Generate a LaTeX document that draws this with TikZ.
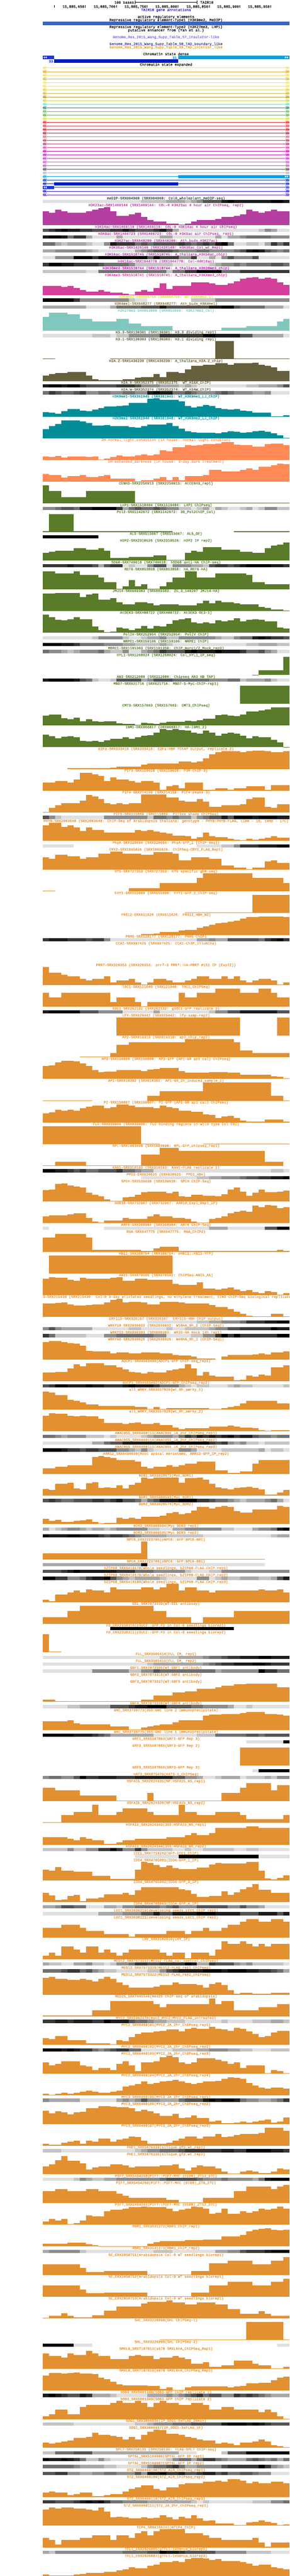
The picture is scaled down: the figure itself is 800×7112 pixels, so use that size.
\documentclass[tikz,border=0pt]{standalone}
\usepackage{fontspec}
\setmainfont{Liberation Mono}[FakeBold=0.2]
\definecolor{g1}{HTML}{E0E0E0}\definecolor{g2}{HTML}{C4C4C4}\definecolor{g3}{HTML}{A8A8A8}
\definecolor{g4}{HTML}{8C8C8C}\definecolor{g5}{HTML}{707070}\definecolor{g6}{HTML}{545454}
\definecolor{g7}{HTML}{383838}\definecolor{g8}{HTML}{1C1C1C}\definecolor{g9}{HTML}{000000}
\definecolor{cMe}{HTML}{2F4F38}\definecolor{cAc}{HTML}{B43FA0}\definecolor{cMth}{HTML}{D800C0}
\definecolor{cMf}{HTML}{D33F9B}\definecolor{cMtw}{HTML}{DDE020}\definecolor{cMon}{HTML}{8A7A30}
\definecolor{cKt}{HTML}{80C8BE}\definecolor{cHv}{HTML}{67603C}\definecolor{cNi}{HTML}{028D99}
\definecolor{cDh}{HTML}{FF8A55}\definecolor{cGr}{HTML}{5A7B2A}\definecolor{cOr}{HTML}{E39030}
\definecolor{cGene}{HTML}{3300CC}\definecolor{cRep}{HTML}{3366CC}\definecolor{cIns}{HTML}{7766EE}
\definecolor{cBnd}{HTML}{443399}\definecolor{cInt}{HTML}{DD9922}
\definecolor{cSa}{HTML}{00A0E9}\definecolor{cSb}{HTML}{001EC3}\definecolor{cSc}{HTML}{1A35EE}
\tikzset{lbl/.style={anchor=base,inner sep=0pt,font=\fontsize{10bp}{10bp}\selectfont},
  rowline/.style={line width=1bp}}
\newcount\cy \cy=547
\newcount\binc
\newcommand\wigT[3]{%
  \edef\ty{\the\numexpr\cy+3\relax.5}%
  \node[lbl,text=#1] (t\the\cy) at (458.5,\ty) {#2};%
  \global\binc=0
  \foreach \h/\n in {#3}{%
    \ifnum\h=\n \def\nn{1}\else \edef\nn{\n}\fi
    \edef\xa{\the\numexpr118+\binc*681/40\relax}%
    \global\advance\binc by \nn\relax
    \edef\xb{\the\numexpr118+\binc*681/40\relax}%
    \ifnum\h>0 \fill[#1] (\xa,\the\numexpr\cy+56\relax) rectangle (\xb,\the\numexpr\cy+56-\h\relax);\fi
  }%
  \global\advance\cy by 60\relax}
\newcommand\denT[3]{%
  \edef\ty{\the\numexpr\cy+3\relax.5}%
  \node[lbl,text=#1] (t\the\cy) at (458.5,\ty) {#2};%
  \global\binc=0
  \foreach \g/\n in {#3}{%
    \edef\xa{\the\numexpr118+\binc*681/40\relax}%
    \global\advance\binc by \n\relax
    \edef\xb{\the\numexpr118+\binc*681/40\relax}%
    \ifnum\g>0 \fill[g\g] (\xa,\the\numexpr\cy+5\relax) rectangle (\xb,\the\numexpr\cy+14\relax);\fi
  }%
  \global\advance\cy by 19\relax}
\catcode`\_=12
\begin{document}
\begin{tikzpicture}[x=1bp,y=-1bp]
\useasboundingbox (0,0) rectangle (800,7112);
\fill[white] (0,0) rectangle (800,7112);
% scale bar
\coordinate (sbl) at (373.5,6.5); \coordinate (sbr) at (543.5,6.5);
\node[lbl,anchor=base east] (sbtxt) at (370,10) {100 bases};
\node[lbl,anchor=base west] (sbasm) at (553,10) {TAIR10};
\draw[line width=1bp] (sbl) -- (sbr);
\draw[line width=1bp] (373.5,2) -- (373.5,11);
\draw[line width=1bp] (543.5,2) -- (543.5,11);
% ruler
\draw[line width=1bp] (150.5,14) -- (150.5,22);
\foreach \tx/\tl in {235.5/650,321.5/700,406.5/750,491.5/800,577.5/850,662.5/900,747.5/950}{
  \draw[line width=1bp] (\tx,14) -- (\tx,22);
  \node[lbl,anchor=base east] (r\tl) at (\tx-2.5,21.5) {15,885,\tl};
}
\node[lbl,text=cGene] (tg) at (458.5,30.5) {TAIR10 gene annotations};
\node[lbl] (ta) at (458.5,49.5) {active regulatory elements};
\node[lbl] (tb) at (458.5,58.5) {Repressive regulatory element-Type1 (H3K9me2, MeDIP)};
\fill[cRep] (118,60) rectangle (799,69);
\node[lbl] (tc) at (458.5,77.5) {Repressive regulatory element-Type2 (H3K27me3, LHP1)};
\node[lbl] (td) at (458.5,86.5) {putative enhancer from (Yan et al.)};
\node[lbl,text=cIns] (te) at (458.5,105.5) {Genome_Res_2015_Wang_Supp_Table_S7_insulator-like};
\node[lbl,text=cBnd] (tf) at (458.5,124.5) {Genome_Res_2015_Wang_Supp_Table_S8_TAD_boundary_like};
\node[lbl,text=cInt] (th) at (458.5,133.5) {Genome_Res_2015_Wang_Supp_Table_S9_TAD_interior_like};
\node[lbl] (ti) at (458.5,152.5) {Chromatin state dense};
\fill[cSc] (118,154) rectangle (150,163);
\fill[cSa] (492,154) rectangle (799,163);
\fill[cSb] (150,164) rectangle (492,173);
\node[lbl,anchor=base east,text=cSa!80!black] (t31) at (488.5,162.5) {31};
\node[lbl,anchor=base east,text=cSb] (t33) at (147,172.5) {33};
\foreach \dx in {0,5}{
  \fill[white] (124+\dx,155.5) -- (120+\dx,158.5) -- (124+\dx,161.5) -- cycle;
  \fill[white] (790+\dx-3,155.5) -- (794+\dx-3,158.5) -- (790+\dx-3,161.5) -- cycle;
}
\node[lbl] (tj) at (458.5,181.5) {Chromatin state expanded};
% chromatin rows
\foreach \c [count=\k from 0] in {F0E840,E8A020,EFE53A,D0B830,F2EC44,F0E840,E0D030,D4AE35,A89020,C8D838,50E8C8,108870,70B848,50B058,D8E020,E82020,E03848,D81020,C81030,E85878,B83850,A83878,D840A8,C808A0,C808C8,E020E0,E040E8,B850C8,484848,B0B0B0,00A0E0,0030A0,0018C0,1830F0,2010E0,6020E0}{
  \edef\dodef{\noexpand\definecolor{rowc}{HTML}{\c}}\dodef
  \pgfmathsetmacro\ry{187.5+10*\k}
  \draw[rowline,rowc] (118,\ry) -- (799,\ry);
  \foreach \off in {0,3,6}{
    \draw[rowline,rowc] (122+\off,\ry-4) -- (118.5+\off,\ry) -- (122+\off,\ry+4);
    \draw[rowline,rowc] (789+\off,\ry-4) -- (792.5+\off,\ry) -- (789+\off,\ry+4);
  }
}
\fill[cSa] (492,483) rectangle (799,492);
\fill[cSb] (150,503) rectangle (492,512);
\fill[cSc] (118,513) rectangle (150,522);
\foreach \dx in {0,5}{
  \fill[white] (790+\dx-3,484.5) -- (794+\dx-3,487.5) -- (790+\dx-3,490.5) -- cycle;
  \fill[white] (124+\dx,514.5) -- (120+\dx,517.5) -- (124+\dx,520.5) -- cycle;
}
% tracks
\denT{cMe}{meDIP-SRX004968 (SRX004968: Col0_wholeplant_meDIP-seq)}{1/16,2/4,3/3,2/1,3/1,4/1,6/3,8/1,9/1,8/6,9/2,8/1}
\wigT{cAc}{H3K23ac-SRX1469144 (SRX1469144: COL-0 H3K23ac 4 hour air ChIPseq, rep2)}{39,34,43,39,34,34,34,39,43,47,50,39,26,26,30,34,23,14,10,10,5,5,2,5,10,14,14,14,18,23,23,26,30,43,39,34,39,43,39,39}
\denT{cAc}{H3K14ac-SRX1469119 (SRX1469119: COL-0 H3K14ac 4 hour air ChIPseq)}{6/1,7/1,8/1,9/1,8/2,7/2,6/3,7/2,8/1,7/1,6/3,7/1,8/1,6/1,3/1,1/13,2/1,4/1,3/1,1/2}
\denT{cAc}{H3K9ac-SRX1466723 (SRX1466723: COL-0 H3K9ac air ChIPseq, rep1)}{8/1,9/2,8/1,5/1,7/2,3/1,1/4,3/1,1/6,3/2,1/7,3/1,1/1,3/2,4/1,5/4,4/3}
\denT{cAc}{H3K27ac-SRX648280 (SRX648280: Ath_buds_H3K27ac)}{5/2,3/1,2/1,3/3,2/1,1/2,4/1,8/1,7/3,5/1,6/1,5/1,6/4,7/1,6/1,5/1,6/1,7/1,6/1,8/1,9/1,5/1,1/2,2/2,1/1,3/1,7/1,5/1,7/1}
\denT{cAc}{H3K36ac-SRX1426149 (SRX1426149: H3K36ac_Col_wt_Rep1)}{3/2,4/5,3/1,2/1,1/6,3/1,4/1,5/1,6/3,5/1,4/3,5/2,4/4,5/1,6/1,8/1,9/1,8/1,6/1,5/1,4/1,5/1}
\denT{cAc}{H3K56ac-SRX1518745 (SRX1518745: A_thaliana_H3K56ac_chip)}{1/2,4/3,9/3,7/1,9/8,6/1,9/1,7/3,4/2,7/1,1/2,3/1,1/1,4/1,6/1,4/3,6/1,1/5}
\denT{cAc}{H4K16ac-SRX1044778 (SRX1044778: Col-H4K16ac)}{7/1,9/2,8/2,7/4,6/1,5/4,4/1,2/6,1/6,2/1,3/1,4/2,5/1,4/1,5/4,6/2,5/1}
\denT{cMth}{H3K36me3-SRX1518744 (SRX1518744: A_thaliana_H3K36me3_chip)}{2/7,1/2,5/11,2/1,5/2,7/2,9/4,5/3,7/8}
\wigT{cMf}{H3K4me3-SRX1518741 (SRX1518741: A_thaliana_H3K4me3_chip)}{26,26,26,23,26,20,14,10,10,14,10,7,7,4,2,10,14,10,20,32,17,26,26,26,35,35,35,32,29,29,32,39,45,48,50,45,48,45,35,29}
\denT{cMtw}{H3K4me2-DRX066756 (DRX066756: WT_H3K4me2_1)}{9/5,7/1,4/8,2/1,1/2,0/7,2/4,4/12}
\denT{cMon}{H3K4me1-SRX648277 (SRX648277: Ath_buds_H3K4me1)}{3/7,1/4,3/1,5/4,6/3,8/1,6/7,8/2,9/2,6/1,5/4,3/3,1/1}
\wigT{cKt}{H3K27me3-SRX853860 (SRX853860: H3K27me3_Col)}{38,50/3,45/2,33/2,26/4,33/2,20/2,13/5,1/8,8/4,13/5,26,33}
\denT{cHv}{H3.3-SRX130301 (SRX130301: H3.3 dividing rep1)}{1/8,2/3,1/1,2/2,4/5,7/7,9/2,8/4,6/2,3/5,1/1}
\wigT{cHv}{H3.1-SRX130303 (SRX130303: H3.1 dividing rep1)}{2,2,0/9,2/17,50/3,2/9}
\wigT{cHv}{H2A.Z-SRX1436239 (SRX1436239: A_thaliana_H2A.Z_chip)}{15,19,22,22,25,25,25,15,5,2,2,2,2,5,5,9,11,11,19,11,25,25,22,32,42,42,45,45,49,49,45,49,49,49,50,45,42,38,28,28}
\denT{cHv}{H2A.X-SRX352375 (SRX352375: WT_H2AX_ChIP)}{8/1,9/2,8/1,9/2,7/1,6/5,7/3,6/1,4/3,3/3,2/1,3/1,2/1,1/8,2/2,3/3,4/1,6/1}
\denT{cHv}{H2A.W-SRX352374 (SRX352374: WT_H2AW_ChIP)}{5/1,7/1,6/1,5/2,6/1,7/1,4/2,5/2,4/2,5/2,4/2,8/1,9/1,8/2,5/2,6/1,5/1,4/3,5/1,6/1,5/1,4/3,3/2,4/1,1/3}
\wigT{cNi}{H3K9me1-SRX361945 (SRX361945: WT_H3K9me1_LJ_ChIP)}{12,11,8,15,21,20,16,15,19,23,28,28,29,30,37,37,37,49,50,46,46,46,42,29,25,28,32,29,23,20,19,21,17,15,11,11,11,1,1,3}
\wigT{cNi}{H3K9me2-SRX361946 (SRX361946: WT_H3K9me2_LJ_ChIP)}{25,33,40,50,50,50,46,42,35,35,36,34,33,33,31,30,33,38,38,38,42,34,26,19,16,15,15,15,14,16,20,18,15,16,19,21,18,14,8,1}
\wigT{cDh}{DH-normal_light_condition (in house: normal light conditon)}{10,8,11,7,10,10,10,8,10,1,4,8,12,10,10,12,15,12,16,27,24,35,35,41,39,41,44,44,46,50,50,43,41,41,37,37,44,46,46,41}
\wigT{cDh}{DH-extended_darkness (in house: 3-day dark treatment)}{21,18,18,12,16,16,18,13,13,16,18,9,9,8,8,1,5,5,9,13,5,13,5,16,16,16,18,33,33,28,29,29,33,37,33,42,41,45,50,49}
\wigT{cGr}{CENH3-SRX2250913 (SRX2250913: AtCENH3_rep1)}{50,35,35,18,18,18,18,35/8,2/25}
\denT{cGr}{LHP1-SRX1519404 (SRX1519404: LHP1 ChIPseq)}{4/2,5/1,6/2,5/1,8/2,9/4,7/1,3/1,5/1,6/1,5/2,6/1,5/1,4/2,2/2,1/1,2/1,3/1,1/1,3/1,2/1,1/2,2/1,3/1,1/1,2/1,4/2,2/2}
\wigT{cGr}{Pol2-SRX1142672 (SRX1142672: 30_Pol2ChIP_Col)}{2,50/4,2/16,0/10,2/9}
\denT{cGr}{AL5-SRX515067 (SRX515067: AL5_OE)}{9/9,0/31}
\wigT{cGr}{HDP2-SRX2310526 (SRX2310526: HDP2 IP rep2)}{22,25,28,28,28,35,35,31,31,35,28,8,8,8,11,11,11,11,15,15,2,2,2,22,28,25,38,38,38,31,31,31,25,25,22,22,35,42,45,50}
\denT{cGr}{SDG8-SRX749018 (SRX749018: hSDG8 anti-HA ChIP-seq)}{7/4,8/1,7/3,6/1,3/1,6/1,7/2,1/1,2/1,1/2,4/1,6/2,1/1,4/3,3/2,2/1,6/1,7/2,6/1,7/1,8/1,9/4,8/2,7/1}
\wigT{cGr}{REF6-SRX853858 (SRX853858: HA_REF6-HA)}{50/2,44/3,50,39/3,33,19,19,1,8,25,8,14,1,1,8,19,33,33,50,50,33/3,44/5,39,19,19,14/4}
\wigT{cGr}{JMJ14-SRX669383 (SRX669383: ZC_3_140207 JMJ14-HA)}{48,48,50/4,38,45,48,32,32,35,24,18,18,24,24,21,15,18,18,18,15,15,15,21,28,21,28,24,24,21,18,18,18,11,8,5,5,1}
\wigT{cGr}{AtDEK3-SRX488722 (SRX488722: AtDEK3 OE3-1)}{50,43,36,34,38,43,38,38,17,7,2,3,14,11,7,11,19,11,19,17,24,34,38,40,29,26,29,26,34,32,34,40,31,36,38,36,32,31,15,12}
\denT{cGr}{PolIV-SRX252954 (SRX252954: PolIV ChIP)}{1/8,2/1,4/4,2/1,1/2,2/1,3/2,4/1,2/2,4/6,3/1,2/2,4/1,5/2,8/1,9/1,8/1,7/2,6/1}
\denT{cGr}{NRPE1-SRX159106 (SRX159106: NRPE1 ChIP)}{9/3,8/2,7/1,5/4,4/3,3/2,2/4,3/1,2/1,1/12,2/2,3/3,2/2}
\denT{cGr}{MORC1-SRX1161363 (SRX1161358: ChIP_morc1/2_Mock_rep3)}{5/1,4/2,3/1,2/1,3/1,4/3,5/1,3/1,2/2,4/1,1/2,3/1,4/1,5/1,7/1,6/3,8/1,9/1,8/3,9/1,8/3,7/1,5/2,6/1,4/1,3/1,1/2}
\wigT{cGr}{HYL1-SRX1268024 (SRX1268024: Col_HYL1_IP_seq)}{0/34,1,13/4,50}
\denT{cGr}{AN3-SRX212080 (SRX212080: Chipseq AN3 HB TAP)}{8/1,9/4,8/1,6/1,5/1,2/1,1/2,2/1,6/4,3/1,4/1,6/3,5/6,4/3,5/2,2/1,3/3,4/1,2/1,1/2}
\wigT{cGr}{MBD7-SRX621716 (SRX621716: MBD7-5-Myc-ChIP-rep1)}{0/32,50/8}
\wigT{cGr}{CMT3-SRX157663 (SRX157663: CMT3_ChIPseq)}{28,30,30,20,17,22,12,17,11,10,11,11,6,5,5,2,8,6,5,7,10,10,10,13,11,15,19,19,29,30,28,26,30,39,39,41,45,50,50,50}
\wigT{cGr}{IBM1-DRX066817 (DRX066817: HA-IBM1_2)}{34,31,25,29,31,27,18,16,18,15,19,24,23,28,24,28,32,33,40,50,48,50,47,46,40,38,46,40,32,38,40,37,32,25,31,28,27,20,13,1}
\wigT{cOr}{E2Fa-SRX333416 (SRX333416: E2Fa-HBH TChAP output, replicate 2)}{0/4,2/7,4,7/4,12,15/5,21,21,18,21,29,40,46,49,49,49,46,49,50,50,49,46,46,49}
\wigT{cOr}{PIF3-SRX159028 (SRX159028: P3M-ChIP-3)}{22,22,26,26,22,31,50,50,45,41,26,37,31,31,26,22,26,26,22,2,12,16,7,22,22,22,2,2,7,7,2,7,7,12,12,12,2,16,16,16}
\wigT{cOr}{PIF4-SRX214150 (SRX214150: PIF4-peaks-3)}{2,12,20,26,26,26,33,48,44,37,26,23,26,23,26,26,50,50,50,50,41,41,33,30,30,37,30,16,16,20,20,20,23,37,41,41,16,12,23,23}
\denT{cOr}{PIF5-SRX115869 (SRX115869: PIF5ox shade ChIPSeq)}{6/1,4/1,2/1,1/7,4/7,2/1,5/2,4/1,5/1,4/2,2/1,4/1,5/1,6/2,8/1,6/1,9/3,8/1,9/3,8/2}
\wigT{cOr}{PHYB-SRX2083648 (SRX2083648: ChIP-Seq of Arabidopsis thaliana: genotype - PHYB:PHYB-FLAG, time - 10, temp - 17C)}{44,50,50,39,44,37,28,37,31,30,23,23,24,23,24,30,28,30,26,24,20,15,15,13,7,11,23,13,11,11,6,4,2,6,4,7,9,13,9,9}
\denT{cOr}{PhyA-SRX320094 (SRX320094: PhyA-GFP_1 [ChIP-seq])}{1/5,0/20,1/4,2/2,4/1,7/3,8/3,9/2}
\wigT{cOr}{CRY2-SRX1005826 (SRX1005826: ChIPSeq-CRY2_FLAG_Rep1)}{34,30,41,41,37,37,30,34,34,44,44,50,50,44,44,44,41,41,48,48,48,44,26,26,34,34,34,30,30,12,12,5,5,2,5,5,23,26,19,19}
\wigT{cOr}{HY5-SRX727353 (SRX727353: HY5 specific gDB-seq)}{2,2,0/12,9/5,23/6,37,50/8,37/5,23}
\wigT{cOr}{FHY1-SRX555090 (SRX555090: FHY1-GFP_2_ChIP-seq)}{0/23,2/11,50/6}
\wigT{cOr}{FRS12-ERX611626 (ERX611626: FRS12_HBH_N2)}{0/16,2,2,4,8,8,8,12,14,14,19,24,28,32,34,37,39,45,49,49,50,50,50,50,49}
\denT{cOr}{PRR5-SRX128177 (SRX128177: PRR5-ChIP)}{7/1,8/3,7/3,6/1,7/2,4/1,1/14,3/2,4/1,3/2,6/5,5/1,7/1,8/1,9/1,7/1}
\wigT{cOr}{CCA1-SRX997425 (SRX997425: CCA1-ChIP_Illumina)}{0/40}
\wigT{cOr}{PRR7-SRX328353 (SRX328353: prr7-3 PRR7::HA-PRR7 \#151 IP (ExpII))}{50,35,35,29,24,24,18,13,18,18,24,7,13,13,18,7,2,7,18,18,13,7,7,13,18,24,24,18,18,24,18,24,13,7,13,18,18,13,2,7}
\wigT{cOr}{TOC1-SRX121040 (SRX121040: TOC1_ChIPSeq)}{39,26,26,39/8,14,26/3,14,2,14/5,39,26,26,39/3,50/4,39/3,50,50,39,26,26}
\denT{cOr}{SOC1-SRX262132 (SRX262132: gSOC1-GFP replicate 3)}{8/1,9/5,6/3,4/4,1/5,3/1,1/8,2/1,4/2,6/2,8/6,6/2}
\wigT{cOr}{LFY-SRX029442 (SRX029442: lfy-samp-rep2)}{0/12,50/20,0/6,50,50}
\wigT{cOr}{AP2-SRX019319 (SRX019319: ap2_chip_rep2)}{0/6,2/5,12,34,34,41/9,50/8,41,19,19,12/6}
\wigT{cOr}{AP3-SRX150808 (SRX150808: AP3-GFP (AP1-GR ap1 cal) ChIPseq)}{36,38,46,50,50,49,43,36,25,19,20,20,25,25,25,25,22,26,28,31,31,31,22,17,17,17,17,19,19,19,17,17,12/5,7,6,2}
\wigT{cOr}{AP1-SRX018392 (SRX018392: AP1-GR_2h_induced_sample_1)}{1/8,0/9,14,14,26/7,50/11,14,14,1}
\wigT{cOr}{PI-SRX150807 (SRX150807: PI-GFP (AP1-GR ap1 cal) ChIPseq)}{25,28,35,32,35,32,39,44,47,47,39,42,49,50,47,42,42,42,39,47,42,39,32,32,30,30,23,21,13,16,18,13,6,2,2,2,8,8,8,2}
\wigT{cOr}{FLC-SRX039006 (SRX039006: FLC binding regions in wild type Col FRI)}{50/16,2,2,2,0/7,2/14}
\wigT{cOr}{RPL-SRX1603698 (SRX1603698: RPL-GFP_chipseq_rep1)}{2,2,12/5,2/9,31,31,31,50,50,50,42/14,12,12,12,0}
\denT{cOr}{KAN1-SRX310193 (SRX310193: KAN1-FLAG replicate 1)}{9/2,8/2,7/1,6/1,7/1,5/2,6/3,7/1,5/2,4/1,3/2,1/19,2/2,1/1}
\denT{cOr}{PPD2-ERX620625 (ERX620625: PPD2_HBH)}{0/16,1/9,2/2,3/2,4/3,5/1,6/2,7/2,8/2,9/1}
\wigT{cOr}{SPCH-SRX539638 (SRX539638: SPCH ChIP-Seq)}{31,33,49,50,44,41,39,24,19,14,6,2,2,11,13,19,26,27,27,27,23,27,14,13,19,19,16,16,14,20,33,39,27,16,24,33,26,26,27,30}
\wigT{cOr}{ARR10-SRX732967 (SRX732967: ARR10_Exp1_Rep1_IP)}{19,22,22,22,25,28,28,15,5,2,8,8,8,15,12,12,12,19,25,19,19,15,15,12,5,2,2,12,15,19,28,31,34,31,48,45,50,48,41,45}
\denT{cOr}{ARF6-SRX368984 (SRX368984: ARF6 ChIP-Seq)}{1/1,0/9,1/17,3/3,1/6,6/2,9/2}
\wigT{cOr}{RGA-SRX647775 (SRX647775: RGA_ChIP2)}{39,39,50/5,39,6/8,3,3,10,14,14,14,2/16,6,2}
\wigT{cOr}{HBI1-SRX388754 (SRX388754: pHBI1::HBI1-YFP)}{0,50/20,0/19}
\wigT{cOr}{ABI5-SRX670505 (SRX670505: ChIPSeq-ABI5_Ab)}{45,50,48,48,43,40,48,45,45,45,45,48,50,40,40,45,45,43,43,43,43,32,29,29,29,35,19,19,16,19,22,16,11,14,8,6,11,8,1,6}
\node[lbl,anchor=base west,text=cOr] (tein) at (118,\the\numexpr\cy+3\relax.5) {3-SRX215430 (SRX215430: Col-0 3-day etiolated seedlings, no ethylene treatment, EIN3 ChIP-Seq biological replicate};
\wigT{cOr}{}{37,37,39,40,35,31,31,33,35,35,40,48,50,40,42,42,40,35,35,42,42,42,40,37,37,37,37,33,27,27,22,14,9,3,2,2,2,9,9,2}
\denT{cOr}{ERF115-SRX320167 (SRX320167: ERF115-HBH ChIP output)}{0/17,1/8,2/2,3/2,4/3,5/1,7/3,8/2,9/2}
\denT{cOr}{WRKY18-SRX2039032 (SRX2039032: W18HA_0h_2 (ChIP-Seq))}{4/1,6/1,4/1,3/5,1/6,2/2,1/4,2/1,1/2,2/4,3/1,4/2,6/2,7/5,9/1,8/2}
\denT{cOr}{WRKY33-SRX890383 (SRX890383: WK33-HA mock 14h rep1)}{7/1,5/1,2/5,1/3,4/2,5/6,4/2,1/4,2/2,4/2,7/1,9/1,7/1,9/1,7/6,9/2}
\wigT{cOr}{WRKY40-SRX2039026 (SRX2039026: W40HA_0h_1 (ChIP-Seq))}{48,50,50,48,45,43,38,24,22,22,22,16,19,19,16,16,19,19,19,16,16,12,11,11,8,2,2,2,0,8,12,12,12,12,14,16,14,19,19,22}
\wigT{cOr}{ADCP1-SRX4503490(ADCP1-GFP ChIP-seq_rep1)}{24,24,25,25,35,46,41,50,49,49,43,43,38,32,25,24,21,25,24,24,29,32,35,46,35,15,25,15,12,12,12,2,4,15,12,18,15,38,38,43}
\denT{cOr}{ADCP1_SRX4503492(ADCP1-GFP_ChIPseq_rep2)}{6/1,7/1,9/2,8/3,9/1,8/2,7/3,8/1,9/1,8/3,7/1,5/3,3/1,2/1,1/1,2/2,1/3,2/1,3/1,2/2,1/5,2/1}
\wigT{cOr}{all_WRKY_SRX3557820(wt_0h_aWrky_1)}{50,47,40,40,28,24,20,14,14,10/6,7,7,2,7,2,4/7,2,2,4,7,10,17,24/5,17,17}
\wigT{cOr}{all_WRKY_SRX3557828(wt_0h_aWrky_2)}{44,50,49,49,44,42,44,42,42,35,23,23,23,21,23,25,21,21,23,18,18,11,6,9,9,9,9,13,13,13,16,14,11,11,9,4,2,4,4,4}
\denT{cOr}{ANAC055_SRX6460113(ANAC055_JA_2hr_ChIPseq_rep1)}{5/2,4/1,3/1,4/3,2/3,1/1,2/1,1/4,2/1,3/1,4/3,3/1,5/1,7/1,6/1,8/1,7/1,8/1,7/1,8/1,9/1,7/1,8/2,6/1,5/2,4/1,5/2}
\denT{cOr}{ANAC055_SRX6460114(ANAC055_JA_2hr_ChIPseq_rep2)}{1/8,3/2,5/1,6/2,8/7,9/7,7/1,6/1,7/1,4/1,3/1,4/1,2/2,1/1,2/4}
\denT{cOr}{ANAC055_SRX6460115(ANAC055_JA_2hr_ChIPseq_rep3)}{9/3,8/1,7/2,6/1,7/2,6/3,4/2,3/1,2/1,4/1,2/1,1/4,4/2,3/1,1/4,2/6,3/1,1/1,2/2,1/1}
\wigT{cOr}{ARR12_SRX6490939(Root apical meristems, ARR12-GFP_IP_rep2)}{15,15,19,19,24,24,24,24,47,50,47,43,38,38,38,34,19,15,19,19,24,19,24,28,28,34,34,34,10,10,2,2,6,6,28,38/5}
\wigT{cOr}{BDR1_SRX3928572(Myc_BDR1)}{18,15,33,33,36,20,17,34,37,21,23,21,28,20,30,36,50,47,50,50,50,50,36,48,48,50,44,33,23,20,17,21,23,24,21,17,2,2,8,15}
\denT{cOr}{BDR1_SRX5900593(Myc BDR1)}{6/1,7/1,6/1,5/2,6/3,7/2,6/1,7/1,8/1,6/2,5/1,3/1,5/1,6/1,8/3,9/3,7/2,6/1,5/2,4/1,3/1,2/1,3/3,4/1,5/1,3/1,1/1}
\wigT{cOr}{BDR2_SRX3928574(Myc_BDR2)}{15,9,12,6,6,9,10,14,6,2,3,4,17,15,17,15,21,21,21,23,30,34,28,30,37,48,47,43,48,50,47,36,32,32,41,41,41,41,50,48}
\denT{cOr}{BDR3_SRX5900594(Myc BDR3 rep1)}{3/1,1/1,2/1,3/1,4/2,3/1,2/1,3/2,2/1,3/1,4/5,2/2,1/2,3/2,4/6,2/2,1/3,3/1,4/2,5/1,8/1,9/1}
\denT{cOr}{BDR3_SRX5900595(Myc BDR3 rep2)}{9/1,8/3,9/2,8/3,7/1,6/1,7/2,6/1,5/1,4/1,3/4,2/6,1/11,2/1,3/2}
\wigT{cOr}{BPC6_ERX2223705(pBPC6::GFP:BPC6-BR1)}{18/16,50,2/19,0/4}
\denT{cOr}{BPC6_ERX2223706(pBPC6::GFP:BPC6-BR1)}{3/16,9/1,1/19,0/4}
\denT{cOr}{bZIP68_SRX6410178(Whole seedlings, bZIP68-FLAG.CHIP.rep1)}{6/3,7/1,8/1,9/1,8/6,7/3,5/3,4/5,2/1,1/3,2/2,4/11}
\denT{cOr}{bZIP68_SRX6410179(Whole seedlings, bZIP68-FLAG.CHIP.rep2)}{9/2,7/2,4/2,5/1,7/1,8/2,9/1,6/1,4/1,3/1,2/1,3/4,2/1,1/5,4/2,1/1,2/1,3/1,2/2,3/3,2/2,3/1,6/1,8/1}
\wigT{cOr}{bZIP68_SRX6410180(Whole seedlings, bZIP68-FLAG.CHIP.rep3)}{7,2,21,21,27,32,27,35,32,32,27,41,35,35,35,35,41,41,35,41,50,50,32,41,41,32,32,27,32/7,35,32,32,35,27}
\wigT{cOr}{EEL_SRX7873339(WT:EEL antibody)}{18/4,35,35,50/12,35,35,18/4,2,2,18/5,35/9}
\denT{cOr}{FD_ERX2338310(p3UC2::GFP:FD in Col-0 seedlings biorep1)}{0/11,9/20,0/9}
\wigT{cOr}{FD_ERX2338311(p3UC2::GFP:FD in Col-0 seedlings biorep2)}{50,2,2,0/37}
\denT{cOr}{FUL_SRX3505414(FUL IM, rep1)}{1/19,2/3,3/4,4/1,5/2,6/1,7/2,8/3,9/2,8/3}
\denT{cOr}{FUL_SRX3505415(FUL IM, rep2)}{1/17,2/1,3/8,4/1,5/1,6/1,7/2,8/3,9/2,8/1,7/3}
\denT{cOr}{GBF1_SRX7873305(WT:GBF1 antibody)}{1/8,4/6,2/2,4/2,6/1,5/9,3/1,4/6,9/1,7/2,5/2}
\denT{cOr}{GBF2_SRX7873316(WT:GBF2 antibody)}{0/40}
\wigT{cOr}{GBF3_SRX7873327(WT:GBF3 antibody)}{6,6,2/14,6,6,17,17,17,25,25,28,28,36,36,36,40,44,44,48,48,50/5,40,40}
\denT{cOr}{GBF4_SRX7873338(WT:GBF4 antibody)}{1/4,2/2,3/5,6/3,7/1,8/2,9/3,6/4,5/2,4/4,3/1,1/2,2/1,1/6}
\wigT{cOr}{GNC_SRX3739773(35S:GNC line 2 immunoprecipitate)}{25/4,28,19,16/5,10/3,2,2,8,10,13,16,16,22,28/4,40,43,43,45,45,45,48,50,50,50,45,45,43,40}
\denT{cOr}{GNC_SRX3739775(35S:GNC line 1 immunoprecipitate)}{9/5,8/3,7/1,6/1,5/1,3/7,1/7,2/3,5/5,6/2,5/1,6/4}
\denT{cOr}{GRF1_SRX5507863(GRF1-GFP Rep 3)}{0/33,1/6,9/1}
\wigT{cOr}{GRF3_SRX5507865(GRF3-GFP Rep 2)}{0/32,50/8}
\denT{cOr}{GRF3_SRX5507866(GRF3-GFP Rep 3)}{0/34,1/1,9/5}
\denT{cOr}{HAT3_SRX875470(HAT3-1_ChIPSeq)}{4/1,5/2,4/2,6/1,9/1,7/2,8/3,7/3,8/6,6/2,4/2,3/1,1/2,2/1,3/3,1/1,2/3,3/1,2/1,4/2}
\wigT{cOr}{HSFA1b_SRX2024335(NP:HSFA1b_NS_rep1)}{37,37,30/4,16/6,2/5,23,2/11,23/3,37,50/4,30,44,44}
\wigT{cOr}{HSFA1b_SRX2024336(NP:HSFA1b_NS_rep2)}{2,2,2,22,22,30/3,50,22,22,22,30,41/4,30,22/4,50,30,30,22,22,22,30/4,22,11/6,22}
\wigT{cOr}{HSFA1b_SRX2024343(35S:HSFA1b_NS_rep1)}{21/4,17,12,21,17,12,12,2,2,7,12,12,16/5,21/3,26,32,26,26,32,46/5,50,50,46/5}
\denT{cOr}{HSFA1b_SRX2024344(35S:HSFA1b_NS_rep2)}{2/4,4/1,2/2,4/2,7/2,9/1,7/1,4/2,7/1,4/1,2/4,1/2,2/1,1/2,2/5,1/2,2/2,1/5}
\denT{cOr}{ICE1_SRX7719242(GFP-ICE1_ChIP)}{0/15,1/7,9/13,1/5}
\wigT{cOr}{IDD4_SRX4705001(IDD4-GFP_1_IP)}{29,27,37,27,27,24,24,24,12,12,12,3/4,29,50,48,42,37,41,33,31,31,31,35,35,44,48,46/4,50,50,26,5,2,7,14}
\wigT{cOr}{IDD4_SRX4705002(IDD4-GFP_3_IP)}{25,18,5,7,16,19,2,9,9,12,21,21,21,25,19,32,41/6,35,32,23,14,14,16,16,29,19,27,35,41,50,34,34,25,25,25}
\denT{cOr}{IDD4_SRX4705003(IDD4-GFP_4_IP)}{3/2,4/1,6/2,5/2,1/3,3/2,2/1,4/2,5/4,4/1,5/1,6/1,4/3,6/5,4/2,6/1,4/2,3/1,1/4}
\denT{cOr}{LEC1_SRX3638219(developing seeds_LEC1_ChIP rep1)}{1/9,3/4,4/3,6/2,8/1,6/2,8/4,9/3,8/4,6/3,8/3,6/1,8/1}
\wigT{cOr}{LEC1_SRX3638221(developing seeds_LEC1_ChIP rep2)}{26,26,26,35,35,35,26,18,18,18,10,10,10,10,2,10/5,18,18,18,10,18,18,26,18,18,26,35,35,43,50,50,43,43,50,50,43}
\wigT{cOr}{LHY_SRX3182010(LHY_IP)}{9,18,9,35,35,27,18,35,35,18,27,18,9,18,27/5,18,9,18,18,2,18,18,18,9,27,50,43,43,50,43,35,43,35,43,43,43}
\denT{cOr}{MED12_SRX7573312(MED12-FLAG_col_control_ChIPseq)}{3/1,2/2,1/2,3/2,4/1,2/2,1/1,2/1,4/2,5/1,7/2,6/2,7/4,9/1,8/1,3/2,7/1,6/3,4/1,3/1,4/1,2/5,1/1}
\denT{cOr}{MED12_SRX7573320(MED12-FLAG_rep1_ChIPseq)}{5/3,6/1,7/2,5/1,6/1,4/1,3/1,2/2,1/5,2/2,4/1,6/1,7/1,8/4,9/3,8/1,9/3,8/2,7/2,6/1,5/1,3/1}
\wigT{cOr}{MED12_SRX7573322(MED12-FLAG_rep2_ChIPseq)}{47,50,44,44,41,41,44,41,37,44,50,44,34,26,19,19,19,19,23,26,26,34,30,30,30,26,19,30,34,26,12,2,5,5,2,2,2,5,5,5}
\wigT{cOr}{MED25_SRX7445540(med25 ChIP-seq of arabidopsis)}{2/8,17,17,17,42/7,34,25,34/7,50,34,42,42,17/4,25,25,25,34,34}
\denT{cOr}{MYC2_SRX5962476(myc2_MYC2:MYC2_FLAG_untreated)}{7/2,8/2,7/1,8/3,7/2,9/1,8/3,6/1,5/2,4/1,3/2,2/3,1/6,2/1,1/4,2/3,3/2,2/1}
\wigT{cOr}{MYC2_SRX6460101(MYC2_JA_2hr_ChIPseq_rep1)}{19,16,25,25,14,14,14,5,5,5,5,2,14,10,22,30,34,34,37,39,43,43,37,45,48,44,45,50,45,43,39,48,45,37,30,22,25,34,39,39}
\denT{cOr}{MYC2_SRX6460102(MYC2_JA_2hr_ChIPseq_rep2)}{9/3,8/1,9/1,8/1,7/2,5/1,4/1,5/1,6/1,7/2,5/2,1/5,2/4,3/2,4/3,3/2,2/2,1/3,2/3}
\wigT{cOr}{MYC2_SRX6460103(MYC2_JA_2hr_ChIPseq_rep3)}{31,22,27,34,34,34,22,20,10,15,15,10,27,34,22,7,31,31,34,46,50,46,31,27,31,43,43,43,39,34,27,31,15,22,22,22,2,10,7,2}
\wigT{cOr}{MYC2_SRX6460104(MYC2_JA_2hr_ChIPseq_rep4)}{5,2,5,7,5,7,10,13,10,7,7,10,13,24,27,32,38,32,35,38,40,43,38,35,32,35,38,38,40,46,50,49,46,35,27,21,18,21,21,18}
\denT{cOr}{MYC3_SRX6460105(MYC3_JA_2hr_ChIPseq_rep1)}{4/1,3/5,1/6,3/1,4/1,3/1,4/1,6/1,4/2,3/3,5/1,6/3,8/1,9/1,8/1,9/2,8/1,5/1,4/2,3/2,4/1,5/1,7/1}
\wigT{cOr}{MYC3_SRX6460106(MYC3_JA_2hr_ChIPseq_rep2)}{37,29,35,32,26,32,33,44,43,50,50,48,46,46,43,35,39,35,29,22,22,28,16,18,24,17,17,7,9,2,2,4,7,4,7,9,13,4,7,18}
\wigT{cOr}{MYC3_SRX6460107(MYC3_JA_2hr_ChIPseq_rep3)}{6,2,2,9,11,14,6,14,11,19,19,11,17,19,26,24,14,6,6,6,9,14,19,26,26,19,26,26,32,24,26,29,32,32,32,36,50,50,50,41}
\denT{cOr}{PHE1_SRX5676333(silique.gfp.wt_rep1)}{2/3,1/12,2/1,3/1,4/2,5/3,6/1,7/6,8/2,7/2,9/4,8/2,7/1}
\wigT{cOr}{PHE1_SRX5676335(silique.gfp.wt_rep2)}{22,28,39,50,37,37,31,13,19,22,22,28,28,25,19,22,22,22,22,25,25,28,16,10,19,25,22,22,16,7,2,2,7,10,7,4,4,7,16,13}
\denT{cOr}{PIF7_SRX5454258(PIF7::PIF7-MYC (D108)_ZT12_27C)}{1/5,2/1,4/1,3/1,2/2,3/2,4/7,5/1,6/5,5/1,4/3,5/1,4/4,3/1,5/1,8/1,9/3}
\wigT{cOr}{PIF7_SRX5454260(PIF7::PIF7-MYC (D108)_ZT8_27C)}{33,33,39,39,33,33,33,39,39,33,33,33,26,20,14/6,8,8,2/4,14/5,33,33,45/4,39,45,50}
\wigT{cOr}{PIF7_SRX5454262(PIF7::PIF7-MYC (D108)_ZT12_27C)}{9,16,12,16,2,5,12,26,23,23,37,41,41,44,48,48,50,48,48,48,44,37,41,44,50,48,44,30,33,44,30,30,37,33,37,44,41,44,50,44}
\wigT{cOr}{RBR1_SRX3531272(RBR1_ChIP_rep1)}{8/4,10/3,6,3,1/8,7,12,15/4,17,17,18,19,19,19,28,28,28,32,42,46,49,50,46,44,46}
\denT{cOr}{RBR1_SRX3531273(RBR1_ChIP_rep2)}{3/1,4/5,2/1,1/11,2/3,1/7,3/2,4/2,6/1,7/3,8/1,9/3}
\wigT{cOr}{SE_ERX2858751(Arabidopsis Col-0 WT seedlings biorep1)}{30/6,19,9,9,9,11/7,1/7,11,11,11,32,32,32,40/4,30,30,30,40,40,50}
\wigT{cOr}{SE_ERX2858752(Arabidopsis Col-0 WT seedlings biorep1)}{31/6,20,10,10,10,12/7,2/7,12,12,12,32,32,32,41/4,31,31,31,41,41,50}
\wigT{cOr}{SE_ERX2858753(Arabidopsis Col-0 WT seedlings biorep1)}{2,8,8,14,8,3,3,3,9,9,21,21,33/4,41,46,46,46,50,45,45,38,38,45,45,45,38,38,26,26,13,13,13,20,13,8,8,8}
\wigT{cOr}{SHL_SRX3226098(SHL ChIPSeq-1)}{0/19,2/14,50/6,2}
\denT{cOr}{SHL_SRX3226099(SHL ChIPSeq-2)}{9/5,1/3,0/30,1/2}
\wigT{cOr}{SMXL6_SRX7187013(s678 SMXL6HA_ChIPSeq_Rep1)}{43,35,35,31,43,38,38,50,43,35,35,27,27,27,35,38,35,35,27,31,31,35,31,27,14,14,18,6,6,10,10,22,22,22,14,10,10,2,2,6}
\wigT{cOr}{SMXL6_SRX7187015(s678 SMXL6HA_ChIPSeq_Rep2)}{42,49,49,47,49,50,47,47,45,36,31,24,17,15,15,15,15,13,13,4,8,2,2,8,11/6,8,11,13,20,20,22,22,29,36,38}
\denT{cOr}{SOB3_SRX5001348(SOB3-GFP ChIP replicate 1)}{8/1,9/1,8/1,7/1,6/2,8/1,7/1,3/3,2/1,1/5,3/3,4/1,3/1,4/1,5/1,6/1,7/1,5/1,6/2,4/2,7/1,6/1,7/1,6/1,5/1,4/1,3/3}
\wigT{cOr}{SOB3_SRX5001349(SOB3-GFP ChIP replicate 2)}{8,14,27,27,14,14,33,39,39,39,39,45,50,45,45,50,45,33,45,50,45,45,39,39,45,45,39,27,27,33,33,27,27,27,27,20,27,20,8,1}
\denT{cOr}{SOG1_SRX3866936(IP_SOG1-3xFLAG_20min)}{2/5,1/10,2/2,3/1,4/3,5/3,6/5,8/1,9/3,8/1,9/1,8/1,7/1,6/3}
\wigT{cOr}{SOG1_SRX3866937(IP_SOG1-3xFLAG_1h)}{14,11,14,17,20,27,27,30,42,36,36,33,30,23,30,23,36,45,50,48,39,39,36,30,27,23,20,20,11,14,11,8,14,14,17,23,17,8,5,2}
\denT{cOr}{SPL7-SRX250135 (SRX250135: FLAG-SPL7 ChIP-seq)}{2/2,5/3,6/3,3/14,1/3,0/4,2/1,6/3,9/7}
\denT{cOr}{SPT6L_SRX5169086(SPT6L-GFP IP rep1)}{9/1,8/2,9/1,8/1,7/1,5/1,2/2,4/1,2/1,1/9,2/1,4/1,5/2,3/1,5/1,7/2,5/1,4/1,3/3,5/1,6/1,5/1,4/1,5/1,3/1,5/1}
\denT{cOr}{SPT6L_SRX5169087(SPT6L-GFP IP rep2)}{5/5,4/1,3/4,2/2,1/4,2/1,4/1,5/2,6/1,7/1,5/1,3/2,4/4,6/1,7/5,9/1,7/1,4/1,3/1,2/1}
\denT{cOr}{STZ_SRX6460108(STZ_AIR_ChIPseq_rep1)}{6/2,7/2,4/2,3/2,4/2,5/2,4/3,6/1,4/1,8/2,9/1,7/2,8/1,6/2,7/1,8/2,6/1,7/1,5/2,6/2,5/1,4/2,1/3}
\wigT{cOr}{STZ_SRX6460109(STZ_AIR_ChIPseq_rep2)}{12,15,12,12,5,8,12,12,2,2,5,8,8,15,22,27,32,32,22,18,27,27,35,38,38,38,42,42,45,42,50,50,45,38,42,38,38,42,42,38}
\denT{cOr}{STZ_SRX6460110(STZ_AIR_ChIPseq_rep3)}{7/2,6/3,7/1,8/1,9/1,8/1,9/1,7/1,5/2,4/4,3/7,2/1,1/1,2/1,1/7,2/3,4/2,5/1}
\wigT{cOr}{STZ_SRX6460111(STZ_JA_2hr_ChIPseq_rep1)}{44,50,48,50,50,47,48,44,42,50,39,23,25,23,20,20,23,20,22,29,23,18,25,20,29,20,13,14,6,6,6,2,2,9,10,14,10,7,2,4}
\wigT{cOr}{TCP4_SRX4166241(mTCP4_ChIP)}{27,20,8,20,20,20,27,27,33,33,33,20,33,33,27,39,45,33,45,50,50,50,50,39,39,39,33,27,27,20/5,27,14,2,14,14,14}
\denT{cOr}{TFL1_ERX2826885(gTFL1-1xVenus_biorep1)}{3/1,2/1,4/11,5/4,6/2,9/1,8/2,7/1,6/5,4/5,2/4,1/3}
\wigT{cOr}{TFL1_ERX2826887(gTFL1-1xVenus_biorep3)}{4,1,1,1,1,4,6,9,9,9,11,11,16,19,24,21,21,29,32,39,39,42,39,47,50,50,49,44,47,42,42,42,39,34,29,32,32,24,21,19}
\end{tikzpicture}
\end{document}
